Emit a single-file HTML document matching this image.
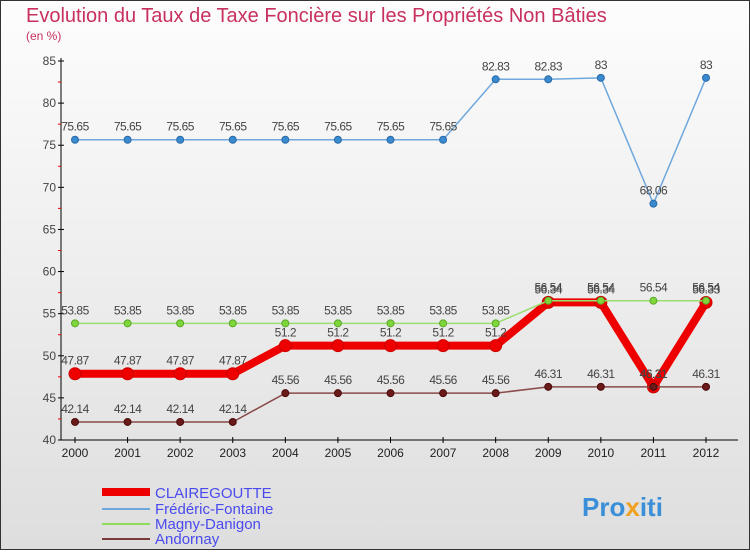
<!DOCTYPE html>
<html><head><meta charset="utf-8"><style>
body{margin:0}
svg text{font-family:"Liberation Sans",sans-serif}
</style></head><body>
<svg id="c" width="750" height="550" xmlns="http://www.w3.org/2000/svg">
<defs><linearGradient id="bg" x1="0" y1="0" x2="0" y2="1"><stop offset="0" stop-color="#fdfdfd"/><stop offset="1" stop-color="#dedede"/></linearGradient></defs>
<rect x="0.5" y="0.5" width="749" height="549" fill="url(#bg)" stroke="#333"/>
<text x="26" y="22" font-size="20" fill="#c8305e">Evolution du Taux de Taxe Foncière sur les Propriétés Non Bâties</text>
<text x="26" y="40" font-size="12" fill="#c8305e">(en %)</text>
<g id="axes"></g><g id="series"></g>
<g>
<line x1="102" y1="492" x2="150" y2="492" stroke="#e00" stroke-width="8"/>
<text x="155" y="498" font-size="15" fill="#4a4aee">CLAIREGOUTTE</text>
<line x1="102" y1="509" x2="150" y2="509" stroke="#6fa8dc" stroke-width="2"/>
<text x="155" y="514" font-size="15" fill="#4a4aee">Frédéric-Fontaine</text>
<line x1="102" y1="524" x2="150" y2="524" stroke="#8fdc5a" stroke-width="2"/>
<text x="155" y="529" font-size="15" fill="#4a4aee">Magny-Danigon</text>
<line x1="102" y1="539" x2="150" y2="539" stroke="#7a3a3a" stroke-width="2"/>
<text x="155" y="544" font-size="15" fill="#4a4aee">Andornay</text>
</g>
<text x="582" y="516" font-size="26" font-weight="bold" fill="#3a8fd8">Pro<tspan fill="#f0a020">x</tspan>iti</text>
</svg>
<script>
const years=[2000,2001,2002,2003,2004,2005,2006,2007,2008,2009,2010,2011,2012];
const clairegoutte=[47.87,47.87,47.87,47.87,51.2,51.2,51.2,51.2,51.2,56.34,56.34,46.31,56.33];
const fredericFontaine=[75.65,75.65,75.65,75.65,75.65,75.65,75.65,75.65,82.83,82.83,83,68.06,83];
const magnyDanigon=[53.85,53.85,53.85,53.85,53.85,53.85,53.85,53.85,53.85,56.54,56.54,56.54,56.54];
const andornay=[42.14,42.14,42.14,42.14,45.56,45.56,45.56,45.56,45.56,46.31,46.31,46.31,46.31];
const yTicks=[40,45,50,55,60,65,70,75,80,85];
const NS="http://www.w3.org/2000/svg";
const x=i=>75+i*(706-75)/(years.length-1);
const y=v=>440-(v-40)*(440-61)/45;
function mk(t,a,p){const e=document.createElementNS(NS,t);for(const k in a)e.setAttribute(k,a[k]);p.appendChild(e);return e;}
const ax=document.getElementById('axes');
const yl=mk('line',{x1:61,y1:58,x2:61,y2:440,stroke:'#000'},ax);


const xl=mk('line',{x1:61,y1:440,x2:738,y2:440,stroke:'#000'},ax);


yTicks.forEach((v,i)=>{
 mk('line',{x1:58,y1:y(v),x2:64,y2:y(v),stroke:'#000'},ax);
 if(i<yTicks.length-1) mk('line',{x1:58,y1:y(v+2.5),x2:61,y2:y(v+2.5),stroke:'#e00'},ax);
 const t=mk('text',{x:56,y:y(v)+4,'font-size':12,'text-anchor':'end',fill:'#444'},ax);t.textContent=v;
 
 
});
years.forEach((yr,i)=>{
 mk('line',{x1:x(i),y1:437,x2:x(i),y2:443,stroke:'#000'},ax);
 const t=mk('text',{x:x(i),y:457,'font-size':12,'text-anchor':'middle',fill:'#222'},ax);t.textContent=yr;
 
 
});
const sg=document.getElementById('series');
function series(data,name,color,w,r,dot,dotStroke){
 const g=mk('g',{},sg);
 
 
 const pl=mk('polyline',{points:data.map((v,i)=>x(i)+','+y(v)).join(' '),fill:'none',stroke:color,'stroke-width':w,'stroke-linejoin':'round'},g);
 
 
 data.forEach((v,i)=>{
  const c=mk('circle',{cx:x(i),cy:y(v),r:r,fill:dot,stroke:dotStroke,'stroke-width':1},g);
  
  
  const t=mk('text',{x:x(i),y:y(v)-9,'font-size':12,'text-anchor':'middle',fill:'#444','letter-spacing':'-0.5'},g);
  t.textContent=v;
  
  
 });
}
series(clairegoutte,'clairegoutte','#ee0000',8,6,'#ee0000','#cc0000');
series(andornay,'andornay','#8a4a4a',1.5,3.5,'#6b1a1a','#4a0a0a');
series(magnyDanigon,'magny-danigon','#9ade70',1.5,3.5,'#7ed63a','#5aa82a');
series(fredericFontaine,'frederic-fontaine','#6fa8dc',1.5,3.5,'#3a8ad0','#2a6aa8');
</script>
</body></html>
